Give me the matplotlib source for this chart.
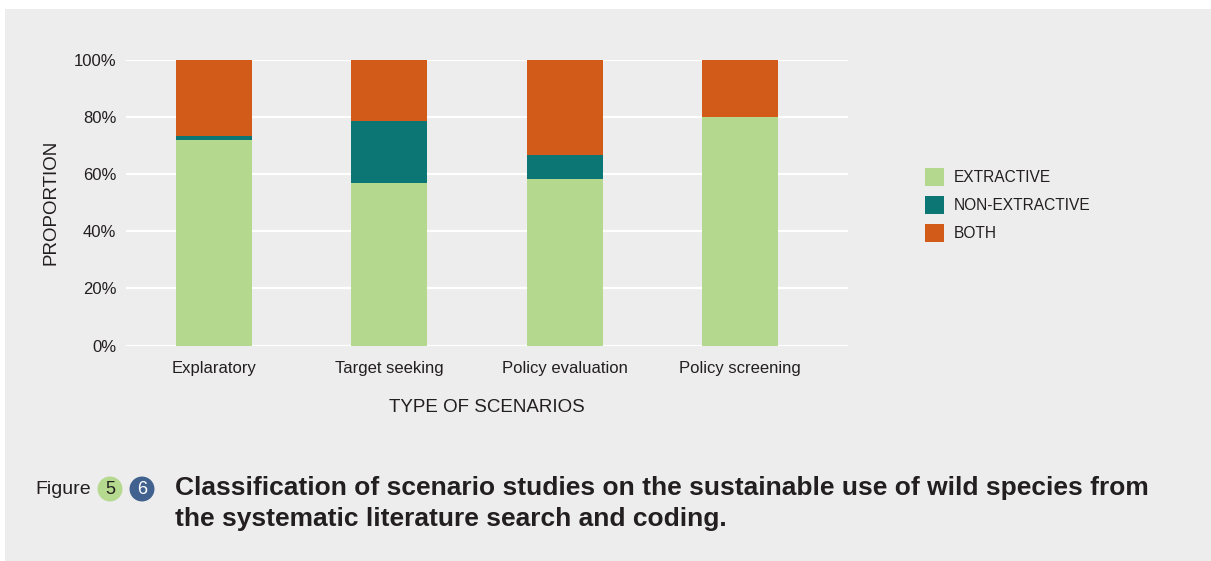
import matplotlib.pyplot as plt
from matplotlib.patches import Rectangle
from matplotlib.ticker import PercentFormatter

## Data (percent of studies)
scenarios = ['Explaratory', 'Target seeking', 'Policy evaluation', 'Policy screening']
extractive = [71.7, 56.9, 58.3, 80.0]
non_extractive = [1.7, 21.6, 8.4, 0.0]
both = [26.6, 21.5, 33.3, 20.0]
series_names = ['EXTRACTIVE', 'NON-EXTRACTIVE', 'BOTH']

## Styling
bg = '#EDEDED'
colors = ['#B4D88E', '#0C7674', '#D35B19']
plt.rcParams['font.family'] = ['Liberation Sans', 'DejaVu Sans']
text_col = '#231F20'

fig = plt.figure(figsize=(12.11, 5.61), dpi=100)
fig.patch.set_facecolor('white')
fig.patches.append(Rectangle((5 / 1211, 0), 1, 552 / 561, transform=fig.transFigure,
                             facecolor=bg, edgecolor='none', zorder=-10))

ax = fig.add_axes([126 / 1211, 1 - 345.5 / 561, 722 / 1211, 286 / 561])
ax.set_facecolor(bg)
for s in ax.spines.values():
    s.set_visible(False)

x = range(len(scenarios))
bottom = [0] * len(scenarios)
bars = []
for vals, c, name in zip([extractive, non_extractive, both], colors, series_names):
    b = ax.bar(x, vals, width=0.434, bottom=bottom, color=c, label=name, zorder=3)
    bars.append(b)
    bottom = [bt + v for bt, v in zip(bottom, vals)]

ax.set_ylim(0, 100)
ax.set_xlim(-0.502, 3.616)
ax.set_yticks([0, 20, 40, 60, 80, 100])
ax.yaxis.set_major_formatter(PercentFormatter(decimals=0))
ax.set_xticks(list(x))
ax.set_xticklabels(scenarios)
ax.tick_params(axis='both', length=0, labelsize=12, colors=text_col)
ax.tick_params(axis='y', pad=7)
ax.tick_params(axis='x', pad=11)
ax.grid(axis='y', color='white', linewidth=1.6, zorder=0)
ax.set_axisbelow(True)

ax.set_ylabel('PROPORTION', fontsize=13.5, color=text_col, labelpad=10)
ax.set_xlabel('TYPE OF SCENARIOS', fontsize=13.5, color=text_col, labelpad=17)

fig.legend(handles=bars, labels=series_names, loc='upper left',
           bbox_to_anchor=(925 / 1211, 1 - 168 / 561), frameon=False,
           fontsize=11.2, handlelength=1.22, handleheight=1.45,
           handletextpad=0.6, labelspacing=0.6, borderpad=0, borderaxespad=0,
           labelcolor=text_col)

## Caption
fig.text(35 / 1211, 1 - 489 / 561, 'Figure', fontsize=14, color=text_col, va='center')
fig.text(110 / 1211, 1 - 489 / 561, '5', fontsize=13, color=text_col, ha='center', va='center',
         bbox=dict(boxstyle='circle,pad=0.22', facecolor='#B5D98E', edgecolor='none'))
fig.text(142 / 1211, 1 - 489 / 561, '6', fontsize=13, color='white', ha='center', va='center',
         bbox=dict(boxstyle='circle,pad=0.22', facecolor='#41628F', edgecolor='none'))
fig.text(175 / 1211, 1 - 476 / 561,
         'Classification of scenario studies on the sustainable use of wild species from\n'
         'the systematic literature search and coding.',
         fontsize=19, fontweight='bold', color=text_col, va='top', linespacing=1.38)

fig.savefig('out.png', dpi=100, facecolor=fig.get_facecolor())
